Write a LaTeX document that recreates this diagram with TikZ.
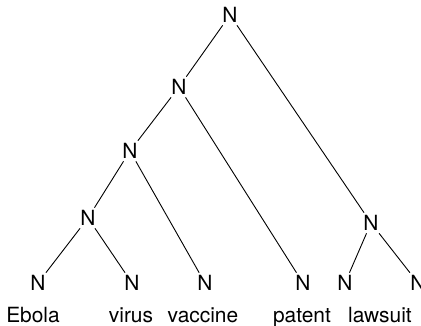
\documentclass[tikz,border=0pt]{standalone}
\usepackage{fontspec}
\setmainfont{TeX Gyre Heros}

\begin{document}
\begin{tikzpicture}[x=1bp, y=-1bp]
    % Define styles
    \tikzstyle{tag} = [inner sep=2.5bp, font=\fontsize{21}{25}\selectfont]
    \tikzstyle{word} = [inner sep=0pt, anchor=base, font=\fontsize{21}{25}\selectfont]
    \tikzstyle{branch} = [draw=black, line width=0.9bp]

    \useasboundingbox (0, 0) rectangle (421, 326);

    % Inner nodes
    \node[tag] (root) at (230, 15) {N};
    \node[tag] (n2) at (179, 87) {N};
    \node[tag] (n3) at (130, 151) {N};
    \node[tag] (n4) at (88, 218) {N};
    \node[tag] (n5) at (371, 223) {N};

    % Leaves
    \node[tag] (ebola) at (38, 283) {N};
    \node[tag] (virus) at (132, 283) {N};
    \node[tag] (vaccine) at (205, 283) {N};
    \node[tag] (patent) at (303, 283) {N};
    \node[tag] (lawsuit) at (345, 283) {N};
    \node[tag] (last) at (418, 283) {N};

    % Words
    \node[word] (w1) at (33, 322) {Ebola};
    \node[word] (w2) at (131, 322) {virus};
    \node[word] (w3) at (203, 322) {vaccine};
    \node[word] (w4) at (302, 322) {patent};
    \node[word] (w5) at (380, 322) {lawsuit};

    % Branches
    \draw[branch] (root) -- (n2);
    \draw[branch] (root) -- (n5);
    \draw[branch] (n2) -- (n3);
    \draw[branch] (n2) -- (patent);
    \draw[branch] (n3) -- (n4);
    \draw[branch] (n3) -- (vaccine);
    \draw[branch] (n4) -- (ebola);
    \draw[branch] (n4) -- (virus);
    \draw[branch] (n5) -- (lawsuit);
    \draw[branch] (n5) -- (last);

\end{tikzpicture}
\end{document}
